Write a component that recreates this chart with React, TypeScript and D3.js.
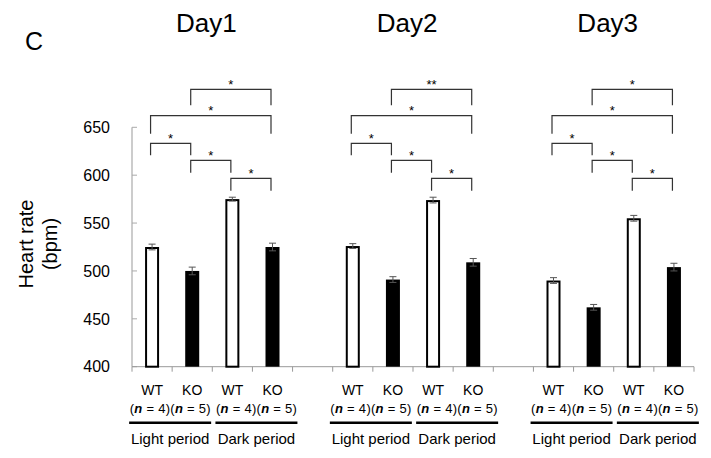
import React from "react";
import * as d3 from "d3";

const days = ["Day1", "Day2", "Day3"];
const groups = ["WT", "KO", "WT", "KO"];
const nLabels = ["4", "5", "4", "5"];
const periods = ["Light period", "Dark period"];
const fills = ["white", "black", "white", "black"];

const values = [
  [525, 500, 575, 525],
  [526, 491, 574, 509],
  [490, 462, 555, 504],
];
const errors = [
  [3, 4, 2, 4],
  [2.5, 3, 3, 4],
  [3, 3, 3, 4],
];

// brackets: pair of bar indices within a day, stacking level, label per day
const brackets = [
  { a: 1, b: 3, level: 0, labels: ["*", "**", "*"] },
  { a: 0, b: 3, level: 1, labels: ["*", "*", "*"] },
  { a: 0, b: 1, level: 2, labels: ["*", "*", "*"] },
  { a: 1, b: 2, level: 3, labels: ["*", "*", "*"] },
  { a: 2, b: 3, level: 4, labels: ["*", "*", "*"] },
];

const yTicks = [400, 450, 500, 550, 600, 650];

const W = 711;
const H = 458;
const FONT = "'Liberation Sans', Arial, Helvetica, sans-serif";

// layout
const axisLeft = 132;
const axisRight = 694;
const yTop = 127.3;
const yBottom = 366.7;
const levelTop = [89.3, 115.7, 143.3, 160.3, 178.3];
const levelLeg = [16, 18, 12, 12.4, 12.4];

export default function App() {
  const slots = d3.range(14).map(String);
  const x = d3.scaleBand<string>().domain(slots).range([axisLeft, axisRight]).padding(0);
  const y = d3.scaleLinear().domain([400, 650]).range([yBottom, yTop]);
  const bw = 14;
  const slotIndex = (day: number, i: number) => day * 5 + i;
  const cx = (day: number, i: number) =>
    (x(String(slotIndex(day, i))) as number) + x.bandwidth() / 2;

  const boundaries = d3.range(15).map((i) => axisLeft + i * x.bandwidth());

  return (
    <svg
      width={W}
      height={H}
      style={{ position: "absolute", left: 0, top: 0, background: "white" }}
      fontFamily={FONT}
    >
      <rect x={0} y={0} width={W} height={H} fill="white" />
      <text x={25} y={50} fontSize={25}>C</text>

      {/* y axis label */}
      <text
        transform={`translate(33,244) rotate(-90)`}
        textAnchor="middle"
        fontSize={20}
      >
        Heart rate
      </text>
      <text
        transform={`translate(57,244) rotate(-90)`}
        textAnchor="middle"
        fontSize={20}
      >
        (bpm)
      </text>

      {/* y axis */}
      <line x1={axisLeft} x2={axisLeft} y1={y(650)} y2={y(400)} stroke="#999" strokeWidth={1} />
      {yTicks.map((t) => (
        <g key={t}>
          <line x1={axisLeft} x2={axisLeft + 5} y1={y(t)} y2={y(t)} stroke="#aaa" strokeWidth={1} />
          <text x={110} y={y(t)} dy="0.36em" textAnchor="end" fontSize={16}>
            {t}
          </text>
        </g>
      ))}

      {/* x axis */}
      <line x1={axisLeft} x2={axisRight} y1={yBottom} y2={yBottom} stroke="#999" strokeWidth={1} />
      {boundaries.map((b, i) => (
        <line key={i} x1={b} x2={b} y1={yBottom} y2={yBottom + 5} stroke="#999" strokeWidth={1} />
      ))}

      {days.map((day, d) => {
        const groupCenter = (cx(d, 0) + cx(d, 3)) / 2;
        return (
          <g key={day}>
            <text x={groupCenter - 6} y={32} textAnchor="middle" fontSize={26}>
              {day}
            </text>
            {values[d].map((v, i) => {
              const c = cx(d, i);
              const white = fills[i] === "white";
              const e = errors[d][i];
              return (
                <g key={i}>
                  <rect
                    x={c - bw / 2 + (white ? 1 : 0)}
                    y={y(v) + (white ? 1 : 0)}
                    width={bw - (white ? 2 : 0)}
                    height={y(400) - y(v) - (white ? 1 : 0)}
                    fill={fills[i]}
                    stroke="black"
                    strokeWidth={white ? 2 : 0}
                  />
                  <line x1={c} x2={c} y1={y(v + e)} y2={y(v - e)} stroke="#555" strokeWidth={1} />
                  <line x1={c - 3.5} x2={c + 3.5} y1={y(v + e)} y2={y(v + e)} stroke="#555" strokeWidth={1} />
                  <line x1={c - 3.5} x2={c + 3.5} y1={y(v - e)} y2={y(v - e)} stroke="#555" strokeWidth={1} />
                  <text x={c} y={395} textAnchor="middle" fontSize={14}>
                    {groups[i]}
                  </text>
                </g>
              );
            })}
            {periods.map((p, k) => {
              const pc = (cx(d, k * 2) + cx(d, k * 2 + 1)) / 2 + (k === 0 ? -2 : 4);
              return (
                <g key={p}>
                  <text
                    x={pc - 40.5}
                    y={413}
                    fontSize={13}
                    textLength={81}
                    lengthAdjust="spacing"
                  >
                    (<tspan fontWeight="bold" fontStyle="italic">n</tspan> = {nLabels[k * 2]})(<tspan fontWeight="bold" fontStyle="italic">n</tspan> = {nLabels[k * 2 + 1]})
                  </text>
                  <line x1={pc - 41} x2={pc + 41} y1={422.7} y2={422.7} stroke="black" strokeWidth={2.5} />
                  <text x={pc} y={444} textAnchor="middle" fontSize={15}>
                    {p}
                  </text>
                </g>
              );
            })}
            {brackets.map((br, j) => {
              const x1 = cx(d, br.a) - 1.5;
              const x2 = cx(d, br.b) - 1.5;
              const top = levelTop[br.level];
              const bottom = top + levelLeg[br.level];
              const path = d3.path();
              path.moveTo(x1, bottom);
              path.lineTo(x1, top);
              path.lineTo(x2, top);
              path.lineTo(x2, bottom);
              return (
                <g key={j}>
                  <path d={path.toString()} fill="none" stroke="#333" strokeWidth={1.2} />
                  <text x={(x1 + x2) / 2} y={top - 0.5} textAnchor="middle" fontSize={13}>
                    {br.labels[d]}
                  </text>
                </g>
              );
            })}
          </g>
        );
      })}
    </svg>
  );
}
